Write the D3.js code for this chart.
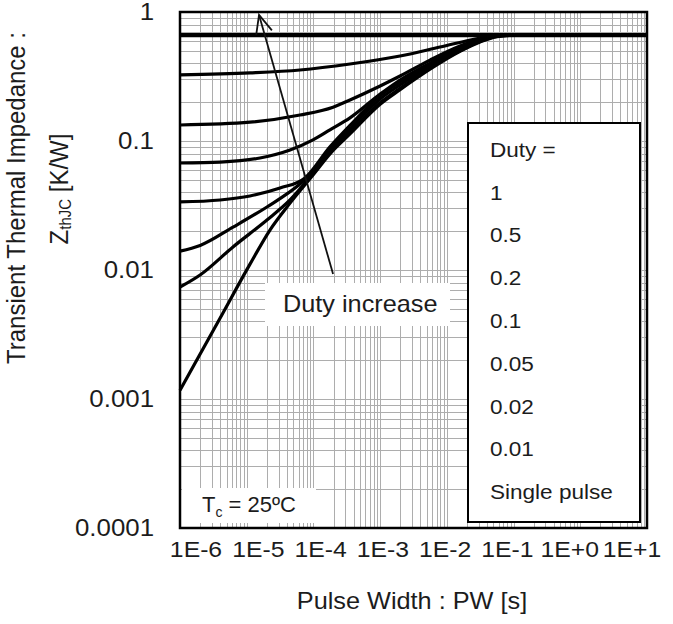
<!DOCTYPE html>
<html><head><meta charset="utf-8">
<script src="https://cdn.jsdelivr.net/npm/d3@7"></script>
<style>
body{margin:0;background:#fff}
text{font-family:Arial,"Liberation Sans",sans-serif;fill:#1c1c1c}
</style>
</head><body>
<svg id="chart" width="673" height="624"></svg>
<script>
// ---------- data ----------
const xTickLabels = ["1E-6","1E-5","1E-4","1E-3","1E-2","1E-1","1E+0","1E+1"];
const yTickValues = [1, 0.1, 0.01, 0.001, 0.0001];
const yTickLabels = ["1","0.1","0.01","0.001","0.0001"];
const legendTitle = "Duty =";
const dutyLabels = ["1","0.5","0.2","0.1","0.05","0.02","0.01","Single pulse"];

const pwDuty1 = [1e-6, 10];
const zDuty1  = [0.663, 0.663];

const pwDuty05 = [1e-6, 1.12e-5, 6.29e-5, 3.53e-4, 1.99e-3, 7.9e-3, 3.14e-2, 5.65e-2, 10];
const zDuty05  = [0.325, 0.337, 0.355, 0.395, 0.456, 0.535, 0.629, 0.663, 0.663];

const pwDuty02 = [1e-6, 1.12e-5, 6.29e-5, 1.97e-4, 3.53e-4, 1e-3, 1.99e-3, 5.59e-3, 1.575e-2, 3.14e-2, 5.65e-2, 10];
const zDuty02  = [0.133, 0.140, 0.159, 0.183, 0.208, 0.267, 0.319, 0.424, 0.545, 0.617, 0.663, 0.663];

const pwDuty01 = [1e-6, 4e-6, 1.58e-5, 4.46e-5, 9.86e-5, 1.77e-4, 3.53e-4, 1e-3, 1.99e-3, 5.59e-3, 1.575e-2, 3.14e-2, 5.65e-2, 10];
const zDuty01  = [0.0675, 0.0687, 0.0738, 0.0851, 0.102, 0.122, 0.151, 0.231, 0.297, 0.402, 0.535, 0.617, 0.663, 0.663];

const pwDuty005 = [1e-6, 4e-6, 1.12e-5, 3.16e-5, 7.48e-5, 1.77e-4, 3.53e-4, 1e-3, 1.99e-3, 5.59e-3, 1.575e-2, 3.14e-2, 5.65e-2, 10];
const zDuty005  = [0.0337, 0.0349, 0.0375, 0.0432, 0.0517, 0.0900, 0.132, 0.224, 0.287, 0.392, 0.530, 0.610, 0.663, 0.663];

const pwDuty002 = [1e-6, 2e-6, 6.23e-6, 2.01e-5, 6.29e-5, 9.86e-5, 1.77e-4, 3.53e-4, 1e-3, 1.99e-3, 5.59e-3, 1.575e-2, 3.14e-2, 5.65e-2, 10];
const zDuty002  = [0.0140, 0.0155, 0.0215, 0.0308, 0.0464, 0.0575, 0.0851, 0.124, 0.212, 0.272, 0.381, 0.517, 0.607, 0.663, 0.663];

const pwDuty001 = [1e-6, 2e-6, 6.23e-6, 2.01e-5, 4.46e-5, 9.86e-5, 1.77e-4, 3.53e-4, 1e-3, 1.99e-3, 5.59e-3, 1.575e-2, 3.14e-2, 5.65e-2, 0.125, 10];
const zDuty001  = [0.00738, 0.00915, 0.0151, 0.0244, 0.0349, 0.0560, 0.0815, 0.117, 0.198, 0.256, 0.368, 0.500, 0.590, 0.648, 0.663, 0.663];

const pwSingle = [1e-6, 4e-6, 1.12e-5, 2.23e-5, 4.46e-5, 9.86e-5, 1.77e-4, 3.53e-4, 1e-3, 1.99e-3, 5.59e-3, 1.575e-2, 3.14e-2, 5.65e-2, 0.125, 10];
const zSingle  = [0.00117, 0.00425, 0.0111, 0.0204, 0.0330, 0.0545, 0.0795, 0.1135, 0.193, 0.250, 0.360, 0.495, 0.585, 0.645, 0.663, 0.663];

// annotation arrow "Duty increase" (data coordinates: from -> to)
const arrowFrom = [1.97e-4, 0.0093];
const arrowTo   = [1.53e-5, 0.948];

// ---------- layout ----------
const svg = d3.select("#chart");
const L = 180, R = 647, T = 12, B = 528;
const x = d3.scaleLog().domain([1e-6, 10]).range([L, R]);
const y = d3.scaleLog().domain([1e-4, 1]).range([B, T]);
const SX = 1.1; // horizontal glyph stretch seen in reference

function stext(g, str, px, py, size, anchor, sx) {
  return g.append("text")
    .attr("transform", `translate(${px},${py}) scale(${sx || SX},1)`)
    .attr("font-size", size)
    .attr("text-anchor", anchor || "start")
    .text(str);
}

// grid
const grid = svg.append("g").attr("stroke", "#adadad").attr("stroke-width", 1);
const xGrid = [];
for (let d = -6; d <= 0; d++) for (let k = 1; k <= 9; k++) xGrid.push(k * Math.pow(10, d));
xGrid.push(10);
const yGrid = [];
for (let d = -4; d <= -1; d++) for (let k = 1; k <= 9; k++) yGrid.push(k * Math.pow(10, d));
grid.selectAll(".vx").data(xGrid).enter().append("line")
  .attr("x1", d => Math.round(x(d)) + 0.5).attr("x2", d => Math.round(x(d)) + 0.5)
  .attr("y1", T).attr("y2", B);
grid.selectAll(".hy").data(yGrid).enter().append("line")
  .attr("y1", d => Math.round(y(d)) + 0.5).attr("y2", d => Math.round(y(d)) + 0.5)
  .attr("x1", L).attr("x2", R);

// white label backgrounds
svg.append("rect").attr("x", 265).attr("y", 283).attr("width", 185).attr("height", 43).attr("fill", "#fff");
svg.append("rect").attr("x", 182).attr("y", 488).attr("width", 134).attr("height", 35).attr("fill", "#fff");

// curves
const series = [
  [pwDuty1, zDuty1, 4.2],
  [pwDuty05, zDuty05, 3.2],
  [pwDuty02, zDuty02, 3.2],
  [pwDuty01, zDuty01, 3.2],
  [pwDuty005, zDuty005, 3.2],
  [pwDuty002, zDuty002, 3.2],
  [pwDuty001, zDuty001, 3.2],
  [pwSingle, zSingle, 3.2]
];
const line = d3.line().x(d => x(d[0])).y(d => y(d[1])).curve(d3.curveMonotoneX);
const curves = svg.append("g");
series.forEach(([pw, z, w]) => {
  curves.append("path")
    .datum(pw.map((p, i) => [p, z[i]]))
    .attr("d", line)
    .attr("fill", "none").attr("stroke", "#000").attr("stroke-width", w)
    .attr("stroke-linejoin", "round");
});

// frame
svg.append("rect").attr("x", L).attr("y", T).attr("width", R - L).attr("height", B - T)
  .attr("fill", "none").attr("stroke", "#000").attr("stroke-width", 2.5);

// arrow
const ax1 = x(arrowFrom[0]), ay1 = y(arrowFrom[1]), ax2 = x(arrowTo[0]), ay2 = y(arrowTo[1]);
const ang = Math.atan2(ay2 - ay1, ax2 - ax1);
const head = 20, spread = 0.42;
const arrowG = svg.append("g").attr("stroke", "#111").attr("stroke-width", 1.8).attr("fill", "none");
arrowG.append("line").attr("x1", ax1).attr("y1", ay1).attr("x2", ax2).attr("y2", ay2);
arrowG.append("path").attr("d",
  `M${ax2 - head * Math.cos(ang - spread)},${ay2 - head * Math.sin(ang - spread)}L${ax2},${ay2}L${ax2 - head * Math.cos(ang + spread)},${ay2 - head * Math.sin(ang + spread)}`);

// "Duty increase"
stext(svg, "Duty increase", 283, 312, 23);

// Tc label
const tc = svg.append("text")
  .attr("transform", `translate(202,512)`)
  .attr("font-size", 22);
tc.append("tspan").text("T");
tc.append("tspan").attr("font-size", 14).attr("dy", 5).text("c");
tc.append("tspan").attr("dy", -5).text(" = 25ºC");

// legend
svg.append("rect").attr("x", 468).attr("y", 123).attr("width", 172).attr("height", 399)
  .attr("fill", "#fff").attr("stroke", "#000").attr("stroke-width", 2);
stext(svg, legendTitle, 490, 157, 20.5);
dutyLabels.forEach((lab, i) => stext(svg, lab, 490, 199.5 + i * 42.8, 20.5));

// y tick labels
yTickValues.forEach((v, i) => {
  stext(svg, yTickLabels[i], 154, y(v) + 8, 23.5, "end");
});

// x tick labels (evenly spaced, as in the reference)
const xp = d3.scalePoint().domain(xTickLabels).range([196, 632]);
xTickLabels.forEach(lab => stext(svg, lab, xp(lab), 557, 22.5, "middle"));

// axis titles
stext(svg, "Pulse Width : PW [s]", 412, 609, 23, "middle");

svg.append("text")
  .attr("transform", `translate(25,198) scale(${SX},1) rotate(-90)`)
  .attr("font-size", 24).attr("text-anchor", "middle")
  .text("Transient Thermal Impedance :");
const yt2 = svg.append("text")
  .attr("transform", `translate(68,189) scale(${SX},1) rotate(-90)`)
  .attr("font-size", 24).attr("text-anchor", "middle");
yt2.append("tspan").text("Z");
yt2.append("tspan").attr("font-size", 15).attr("dy", 3).text("thJC");
yt2.append("tspan").attr("dy", -3).text(" [K/W]");
</script>
</body></html>
